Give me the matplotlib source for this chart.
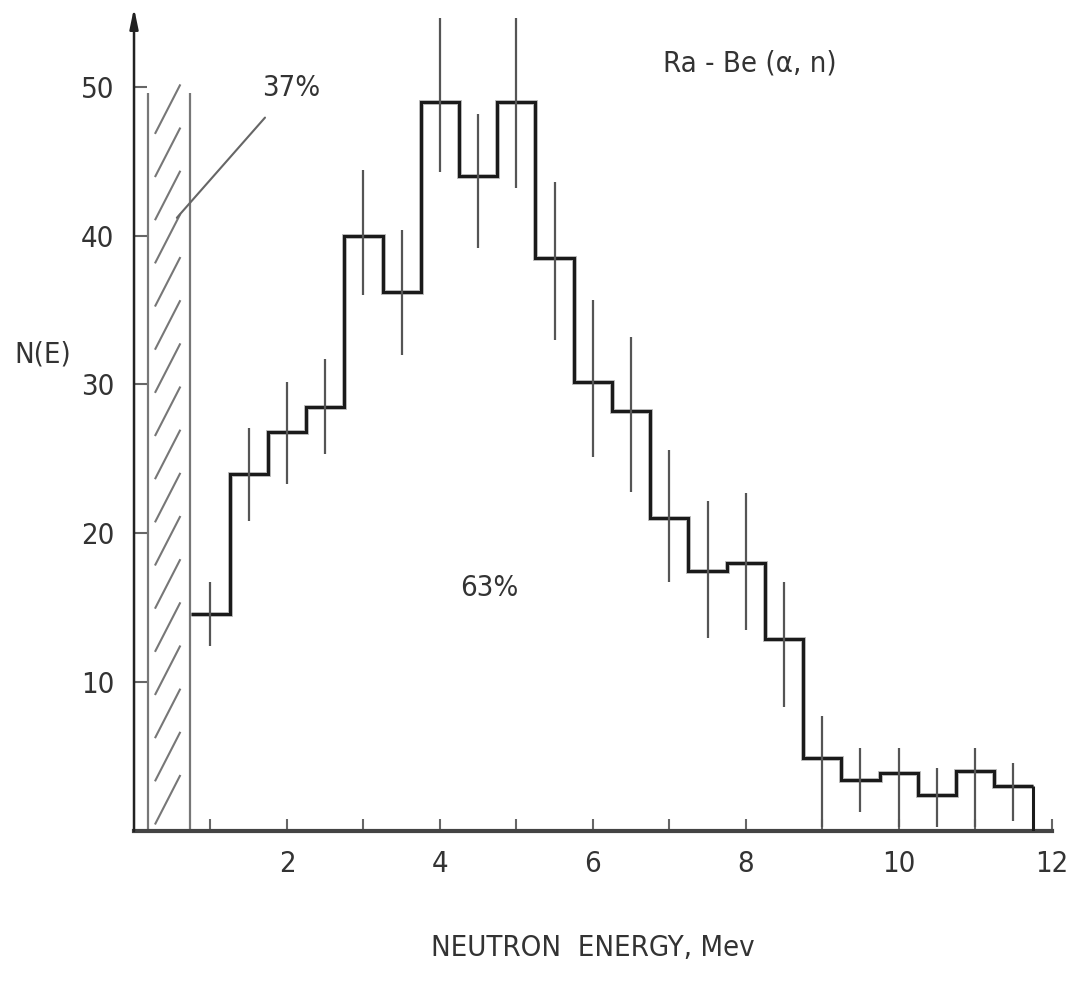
import numpy as np
import matplotlib
matplotlib.use("Agg")
from matplotlib import pyplot as plt

plt.rcParams['font.family'] = ['DejaVu Sans']
plt.rcParams['font.stretch'] = 'condensed'

# bin centres (Mev), bin width 0.5
energy = [1.0, 1.5, 2.0, 2.5, 3.0, 3.5, 4.0, 4.5, 5.0, 5.5, 6.0,
          6.5, 7.0, 7.5, 8.0, 8.5, 9.0, 9.5, 10.0, 10.5, 11.0, 11.5]
counts = [14.6, 24.0, 26.8, 28.5, 40.0, 36.2, 49.0, 44.0, 49.0, 38.5, 30.2,
          28.2, 21.0, 17.5, 18.0, 12.9, 4.9, 3.4, 3.9, 2.4, 4.0, 3.0]
err_lo = [2.2, 3.2, 3.5, 3.2, 4.0, 4.2, 4.7, 4.8, 5.8, 5.5, 5.1,
          5.4, 4.3, 4.5, 4.5, 4.6, 4.6, 2.1, 3.6, 2.1, 3.7, 2.3]
err_hi = [2.1, 3.1, 3.4, 3.2, 4.4, 4.2, 5.6, 4.2, 5.6, 5.1, 5.5,
          5.0, 4.6, 4.7, 4.7, 3.8, 2.8, 2.2, 1.7, 1.8, 1.6, 1.6]
width = 0.5
xticks = [2, 4, 6, 8, 10, 12]
yticks = [10, 20, 30, 40, 50]

fig = plt.figure(figsize=(10.67, 9.92), dpi=100)
ax = fig.add_axes([0.1256, 0.1623, 0.860, 0.8327])

edges = np.append(np.array(energy) - width / 2, energy[-1] + width / 2)
# light grey shadow under the steps, like the printed figure
ax.stairs(counts, edges, baseline=None, color='#b8b8b8', lw=3.5, zorder=2)
ax.stairs(counts, edges, baseline=None, color='#1a1a1a', lw=2.2, zorder=3)
ax.vlines(edges[-1], 0, counts[-1], color='#1a1a1a', lw=2.2, zorder=3)
ax.errorbar(energy, counts, yerr=[err_lo, err_hi], fmt='none',
            ecolor='#555555', elinewidth=1.6, capsize=0, zorder=4)

# hatched strip below 1 Mev
hx0, hx1, htop = 0.18, 0.73, 49.6
ax.vlines([hx0, hx1], 0, htop, color='#777777', lw=1.6)
for y0 in np.arange(0.5, htop - 2.5, 2.9):
    ax.plot([hx0 + 0.1, hx0 + 0.42], [y0, y0 + 3.2], color='#777777', lw=1.5)

fs = 21
ax.annotate('37%', xy=(0.56, 41.2), xytext=(2.05, 49.9), fontsize=fs,
            color='#333333', ha='center', va='center',
            arrowprops=dict(arrowstyle='-', color='#666666', lw=1.5,
                            shrinkA=12, shrinkB=0))
ax.text(4.65, 16.3, '63%', fontsize=fs, color='#333333', ha='center', va='center')
ax.text(8.05, 51.6, 'Ra - Be (α, n)', fontsize=fs, color='#333333',
        ha='center', va='center')

# y axis with arrow
ax.annotate('', xy=(0, 55.3), xytext=(0, 0), annotation_clip=False,
            arrowprops=dict(arrowstyle='-|>,head_length=1.2,head_width=0.25',
                            color='#222222', lw=1.8, shrinkA=0, shrinkB=0))

ax.set_xlim(0, 12)
ax.set_ylim(0, 55.5)
for s in ['top', 'right', 'left']:
    ax.spines[s].set_visible(False)
ax.spines['bottom'].set_color('#444444')
ax.spines['bottom'].set_linewidth(3)

ax.set_xticks(np.arange(1, 12), minor=True)
ax.set_xticks(xticks)
ax.set_xticklabels([str(t) for t in xticks])
ax.set_yticks(yticks)
ax.set_yticklabels([str(t) for t in yticks])
ax.tick_params(axis='both', which='both', direction='in', length=9, width=1.5,
               color='#666666', labelsize=fs, labelcolor='#333333')
ax.tick_params(axis='x', pad=14)
ax.tick_params(axis='y', pad=14)

ax.set_xlabel('NEUTRON  ENERGY, Mev', fontsize=fs, color='#333333', labelpad=40)
fig.text(0.04, (992 - 355) / 992, 'N(E)', fontsize=fs, color='#333333',
         ha='center', va='center')

plt.savefig('out.png', dpi=100)
